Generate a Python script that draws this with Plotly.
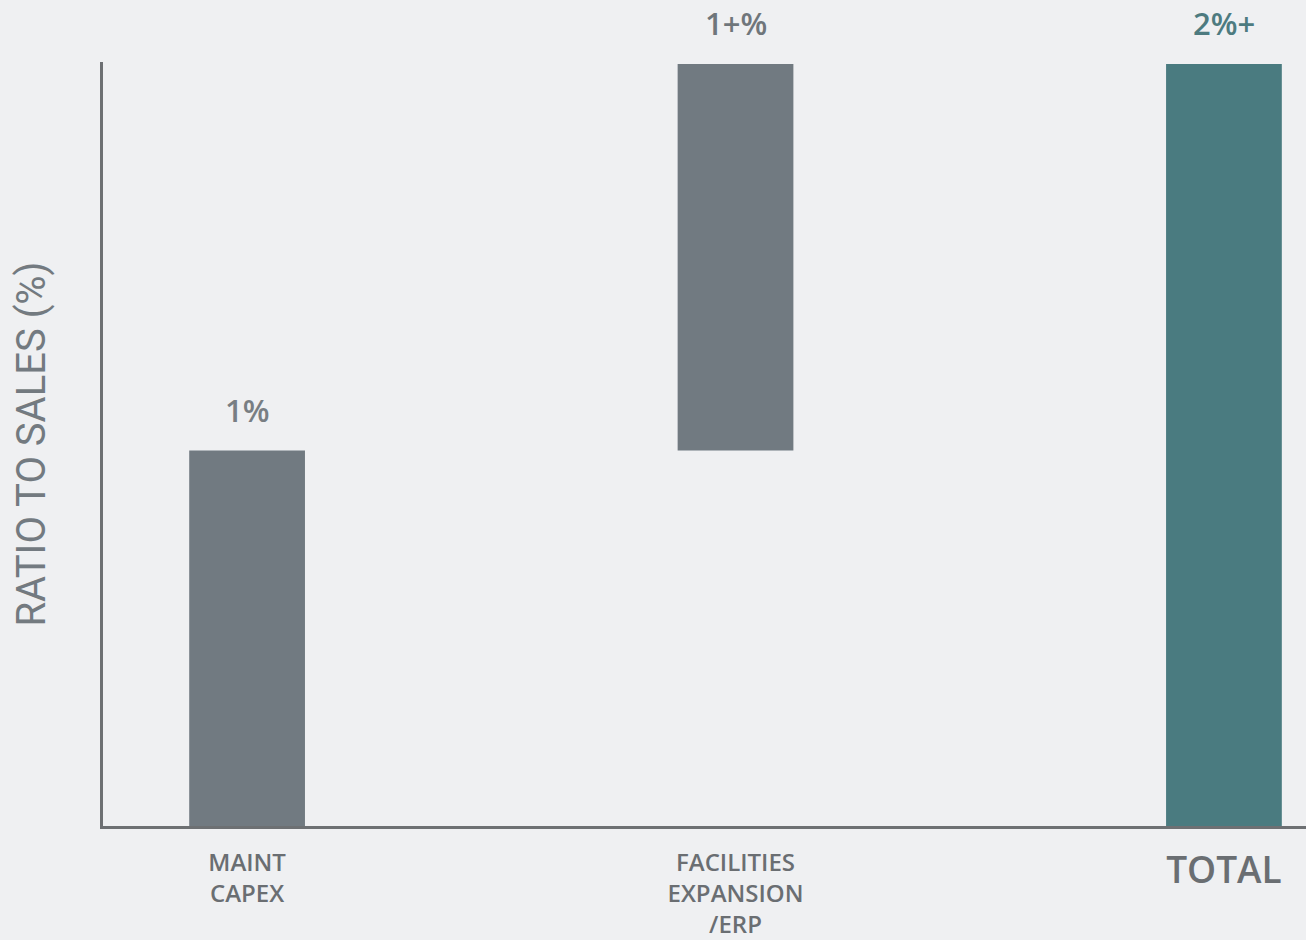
import plotly.graph_objects as go

categories = ["MAINT CAPEX", "FACILITIES EXPANSION /ERP", "TOTAL"]
bases = [0.0, 1.0, 0.0]
values = [1.0, 1.03, 2.03]
value_labels = ["1%", "1+%", "2%+"]
bar_colors = ["#717a81", "#717a81", "#4a7b80"]
label_colors = ["#787e83", "#6f767b", "#4d7b80"]

tick_text = [
    "MAINT<br>CAPEX",
    "FACILITIES<br>EXPANSION<br>/ERP",
    "<span style='font-size:37px;baseline-shift:-12px'>TOTAL</span>",
]

fig = go.Figure()

fig.add_trace(go.Bar(
    x=categories,
    y=values,
    base=bases,
    width=0.237,
    marker=dict(color=bar_colors, line=dict(width=0)),
    hoverinfo="skip",
))

# value labels above each bar
for i, (b, v, txt, col) in enumerate(zip(bases, values, value_labels, label_colors)):
    fig.add_annotation(
        x=i, y=round(b + v, 4), xref="x", yref="y",
        text=txt, showarrow=False,
        yanchor="middle", yshift=41,
        font=dict(family="Open Sans", size=31, color=col, weight=600),
    )

fig.update_layout(
    width=1306, height=940,
    margin=dict(l=103, r=0, t=62, b=104),
    paper_bgcolor="#eff0f2",
    plot_bgcolor="rgba(0,0,0,0)",
    showlegend=False,
    font=dict(family="Open Sans", color="#6f7478"),
    xaxis=dict(
        type="category",
        range=[-0.295, 2.168],
        tickvals=categories,
        ticktext=tick_text,
        showgrid=False, zeroline=False,
        showline=True, linecolor="#6d7073", linewidth=3,
        ticks="", ticklabelstandoff=13,
        tickfont=dict(family="Open Sans", size=24, color="#6a6e72", weight=600),
    ),
    yaxis=dict(
        range=[0, 2.035],
        showgrid=False, zeroline=False,
        showline=True, linecolor="#6d7073", linewidth=3,
        showticklabels=False, ticks="",
        title=dict(
            text="RATIO TO SALES (%)",
            standoff=43,
            font=dict(family="Roboto", size=40, color="#737a80"),
        ),
        automargin=False,
    ),
)

fig.write_html(
    "out.html",
    config={"displayModeBar": False},
    post_script="document.body.style.margin='0';",
)
